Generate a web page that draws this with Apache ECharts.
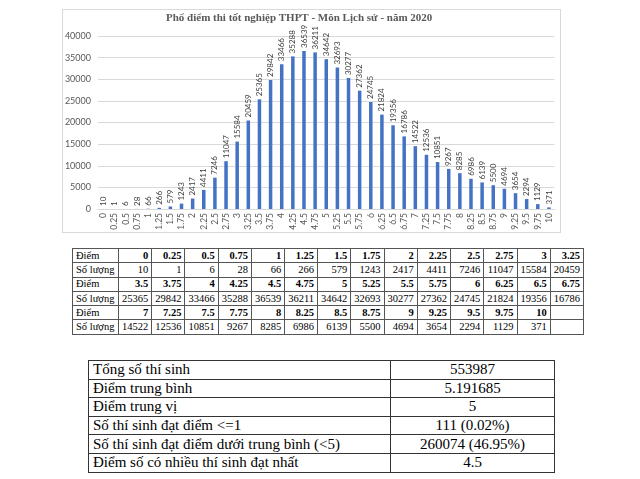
<!DOCTYPE html>
<html>
<head>
<meta charset="utf-8">
<script src="https://cdn.jsdelivr.net/npm/echarts@6/dist/echarts.min.js"></script>
<style>
  html, body { margin: 0; padding: 0; background: #fff; }
  #page { position: relative; width: 640px; height: 479px; overflow: hidden; background: #fff; }
  #frame { position: absolute; left: 62px; top: 9px; width: 499px; height: 224px; border: 1px solid #d9d9d9; box-sizing: border-box; }
  #chart { position: absolute; left: 0; top: 0; width: 640px; height: 240px; }
  table { border-collapse: collapse; position: absolute; font-family: "Liberation Serif", "Times New Roman", serif; color: #000; }
  #t1 { left: 72px; top: 248px; width: 512px; border: 1.5px solid #333; }
  #t1 td { border: 1px solid #555; height: 13.3px; padding: 0 3px; font-size: 10.5px; line-height: 12px; text-align: right; }
  #t1 td.lab { text-align: left; width: 39px; font-weight: normal; }
  #t1 tr.sc td { font-weight: bold; }
  #t1 tr.sc td.lab { font-weight: normal; }
  #t2 { left: 88px; top: 360px; width: 467px; border: 1.5px solid #222; }
  #t2 td { border: 1px solid #333; height: 17.6px; padding: 0 4px; font-size: 15px; line-height: 17px; }
  #t2 td.v { text-align: center; width: 155px; }
</style>
</head>
<body>
<div id="page">
  <div id="frame"></div>
  <div id="chart"></div>
  <table id="t1"></table>
  <table id="t2"></table>
</div>
<script>
// ---- data ----
const scores = ["0","0.25","0.5","0.75","1","1.25","1.5","1.75","2","2.25","2.5","2.75","3","3.25",
  "3.5","3.75","4","4.25","4.5","4.75","5","5.25","5.5","5.75","6","6.25","6.5","6.75",
  "7","7.25","7.5","7.75","8","8.25","8.5","8.75","9","9.25","9.5","9.75","10"];
const counts = [10,1,6,28,66,266,579,1243,2417,4411,7246,11047,15584,20459,
  25365,29842,33466,35288,36539,36211,34642,32693,30277,27362,24745,21824,19356,16786,
  14522,12536,10851,9267,8285,6986,6139,5500,4694,3654,2294,1129,371];
const yTicks = [0,5000,10000,15000,20000,25000,30000,35000,40000];
const chartTitle = "Phổ điểm thi tốt nghiệp THPT - Môn Lịch sử - năm 2020";
const rowLabelScore = "Điểm";
const rowLabelCount = "Số lượng";
const summaryLabels = ["Tổng số thí sinh","Điểm trung bình","Điểm trung vị","Số thí sinh đạt điểm <=1",
  "Số thí sinh đạt điểm dưới trung bình (<5)","Điểm số có nhiều thí sinh đạt nhất"];
const summaryValues = ["553987","5.191685","5","111 (0.02%)","260074 (46.95%)","4.5"];

// ---- chart ----
const chart = echarts.init(document.getElementById('chart'), null, {renderer: 'canvas'});
chart.setOption({
  animation: false,
  title: {
    text: chartTitle, left: 166, top: 13, padding: 0,
    textStyle: { fontFamily: '"Liberation Serif", serif', fontWeight: 'bold', fontSize: 11, color: '#595959' }
  },
  grid: { left: 98, right: 85.5, top: 36, bottom: 31, containLabel: false },
  xAxis: {
    type: 'category', data: scores,
    axisTick: { show: false },
    axisLine: { lineStyle: { color: '#d9d9d9' } },
    axisLabel: { interval: 0, rotate: 90, fontSize: 8.5, color: '#595959', fontFamily: 'Lato, sans-serif', margin: 4 }
  },
  yAxis: {
    type: 'value', min: yTicks[0], max: yTicks[yTicks.length-1], interval: yTicks[1]-yTicks[0],
    axisLine: { show: false }, axisTick: { show: false },
    axisLabel: { fontSize: 9, color: '#595959', fontFamily: 'Lato, sans-serif', margin: 7,
      formatter: v => String(v) },
    splitLine: { lineStyle: { color: '#d9d9d9' } }
  },
  series: [{
    type: 'bar', data: counts, barWidth: 3.5,
    itemStyle: { color: '#4472C4' },
    label: { show: true, position: 'top', rotate: 90, align: 'left', verticalAlign: 'middle', distance: 3,
      fontSize: 8, color: '#404040', fontFamily: 'Lato, sans-serif' }
  }]
});

// ---- tables ----
const t1 = document.getElementById('t1');
const perRow = 14;
for (let start = 0; start < scores.length; start += perRow) {
  const trS = document.createElement('tr'); trS.className = 'sc';
  const trC = document.createElement('tr');
  trS.innerHTML = '<td class="lab">' + rowLabelScore + '</td>';
  trC.innerHTML = '<td class="lab">' + rowLabelCount + '</td>';
  for (let i = start; i < start + perRow; i++) {
    trS.innerHTML += '<td>' + (i < scores.length ? scores[i] : '') + '</td>';
    trC.innerHTML += '<td>' + (i < counts.length ? counts[i] : '') + '</td>';
  }
  t1.appendChild(trS); t1.appendChild(trC);
}
const t2 = document.getElementById('t2');
summaryLabels.forEach((l, i) => {
  const tr = document.createElement('tr');
  tr.innerHTML = '<td>' + l + '</td><td class="v">' + summaryValues[i] + '</td>';
  t2.appendChild(tr);
});
</script>
</body>
</html>
